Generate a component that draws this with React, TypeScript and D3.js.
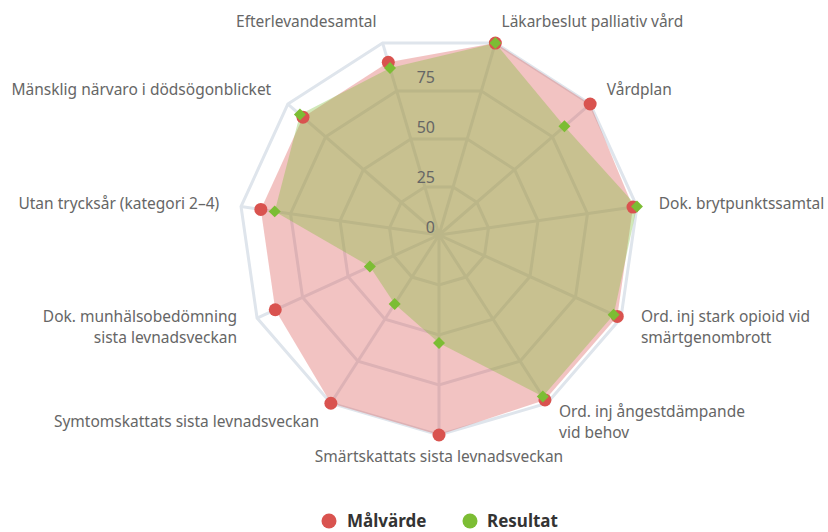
import { scaleLinear, lineRadial, curveLinearClosed, range, symbol, symbolSquare } from 'd3';

const WIDTH = 828;
const HEIGHT = 532;
const CX = 439;
const CY = 235;
const RADIUS = 200;

const categories = [
  'Läkarbeslut palliativ vård',
  'Vårdplan',
  'Dok. brytpunktssamtal',
  'Ord. inj stark opioid vid\nsmärtgenombrott',
  'Ord. inj ångestdämpande\nvid behov',
  'Smärtskattats sista levnadsveckan',
  'Symtomskattats sista levnadsveckan',
  'Dok. munhälsobedömning\nsista levnadsveckan',
  'Utan trycksår (kategori 2–4)',
  'Mänsklig närvaro i dödsögonblicket',
  'Efterlevandesamtal',
];

const malvarde = [100, 100, 98, 98, 98, 100, 100, 90, 90, 90, 90];
const resultat = [100, 83, 100, 96, 96, 54, 41, 38, 83, 92, 87];

const gridTicks = [25, 50, 75, 100];
const tickLabels = [0, 25, 50, 75];

const RED = '#d9534f';
const GREEN = '#7cbd34';

function App() {
  const r = scaleLinear().domain([0, 100]).range([0, RADIUS]);
  const step = (2 * Math.PI) / categories.length;
  const angle = (i: number) => (i + 0.5) * step;

  const radar = lineRadial<number>()
    .angle((_, i) => angle(i))
    .radius(d => r(d))
    .curve(curveLinearClosed);

  const pos = (i: number, v: number) => [
    Math.sin(angle(i)) * r(v),
    -Math.cos(angle(i)) * r(v),
  ];

  // square rotated 45° for the Resultat markers
  const diamond = symbol().type(symbolSquare).size(72)();

  return (
    <svg
      width={WIDTH}
      height={HEIGHT}
      style={{ position: 'absolute', left: 0, top: 0, fontFamily: '"Noto Sans", sans-serif' }}
    >
      <rect width={WIDTH} height={HEIGHT} fill="#fff" />
      <g transform={`translate(${CX},${CY})`}>
        {/* grid */}
        {gridTicks.map(t => (
          <path
            key={t}
            d={radar(categories.map(() => t)) || ''}
            fill="none"
            stroke="#dfe5ec"
            strokeWidth={3}
          />
        ))}
        {range(categories.length).map(i => {
          const [x, y] = pos(i, 100);
          return <line key={i} x1={0} y1={0} x2={x} y2={y} stroke="#dfe5ec" strokeWidth={3} />;
        })}

        {/* areas */}
        <path d={radar(malvarde) || ''} fill={RED} fillOpacity={0.35} stroke="none" />
        <path d={radar(resultat) || ''} fill={GREEN} fillOpacity={0.35} stroke="none" />

        {/* radial tick labels */}
        {tickLabels.map(t => (
          <text
            key={t}
            x={-4}
            y={-r(t) - 2}
            textAnchor="end"
            fontSize={16}
            fill="#666"
          >
            {t}
          </text>
        ))}

        {/* markers */}
        {malvarde.map((v, i) => {
          const [x, y] = pos(i, v);
          return <circle key={i} cx={x} cy={y} r={6.5} fill={RED} />;
        })}
        {resultat.map((v, i) => {
          const [x, y] = pos(i, v);
          return (
            <path
              key={i}
              d={diamond || ''}
              transform={`translate(${x},${y}) rotate(45)`}
              fill={GREEN}
            />
          );
        })}

        {/* category labels */}
        {categories.map((c, i) => {
          const [x, y] = pos(i, 111);
          const s = Math.sin(angle(i));
          const anchor = s > 0.1 ? 'start' : s < -0.1 ? 'end' : 'middle';
          const lines = c.split('\n');
          const lh = 21;
          return (
            <text key={i} x={x} y={y} textAnchor={anchor} fontSize={15.5} fill="#666">
              {lines.map((l, j) => (
                <tspan key={j} x={x} y={y + (j - (lines.length - 1) / 2) * lh} dy="0.35em">
                  {l}
                </tspan>
              ))}
            </text>
          );
        })}
      </g>

      {/* legend */}
      <g transform="translate(329,521)" fontWeight="bold" fontSize={17} fill="#333">
        <circle r={7.5} fill={RED} />
        <text x={18} dy="0.35em">Målvärde</text>
        <circle cx={141} r={7.5} fill={GREEN} />
        <text x={158} dy="0.35em">Resultat</text>
      </g>
    </svg>
  );
}

export default App;
